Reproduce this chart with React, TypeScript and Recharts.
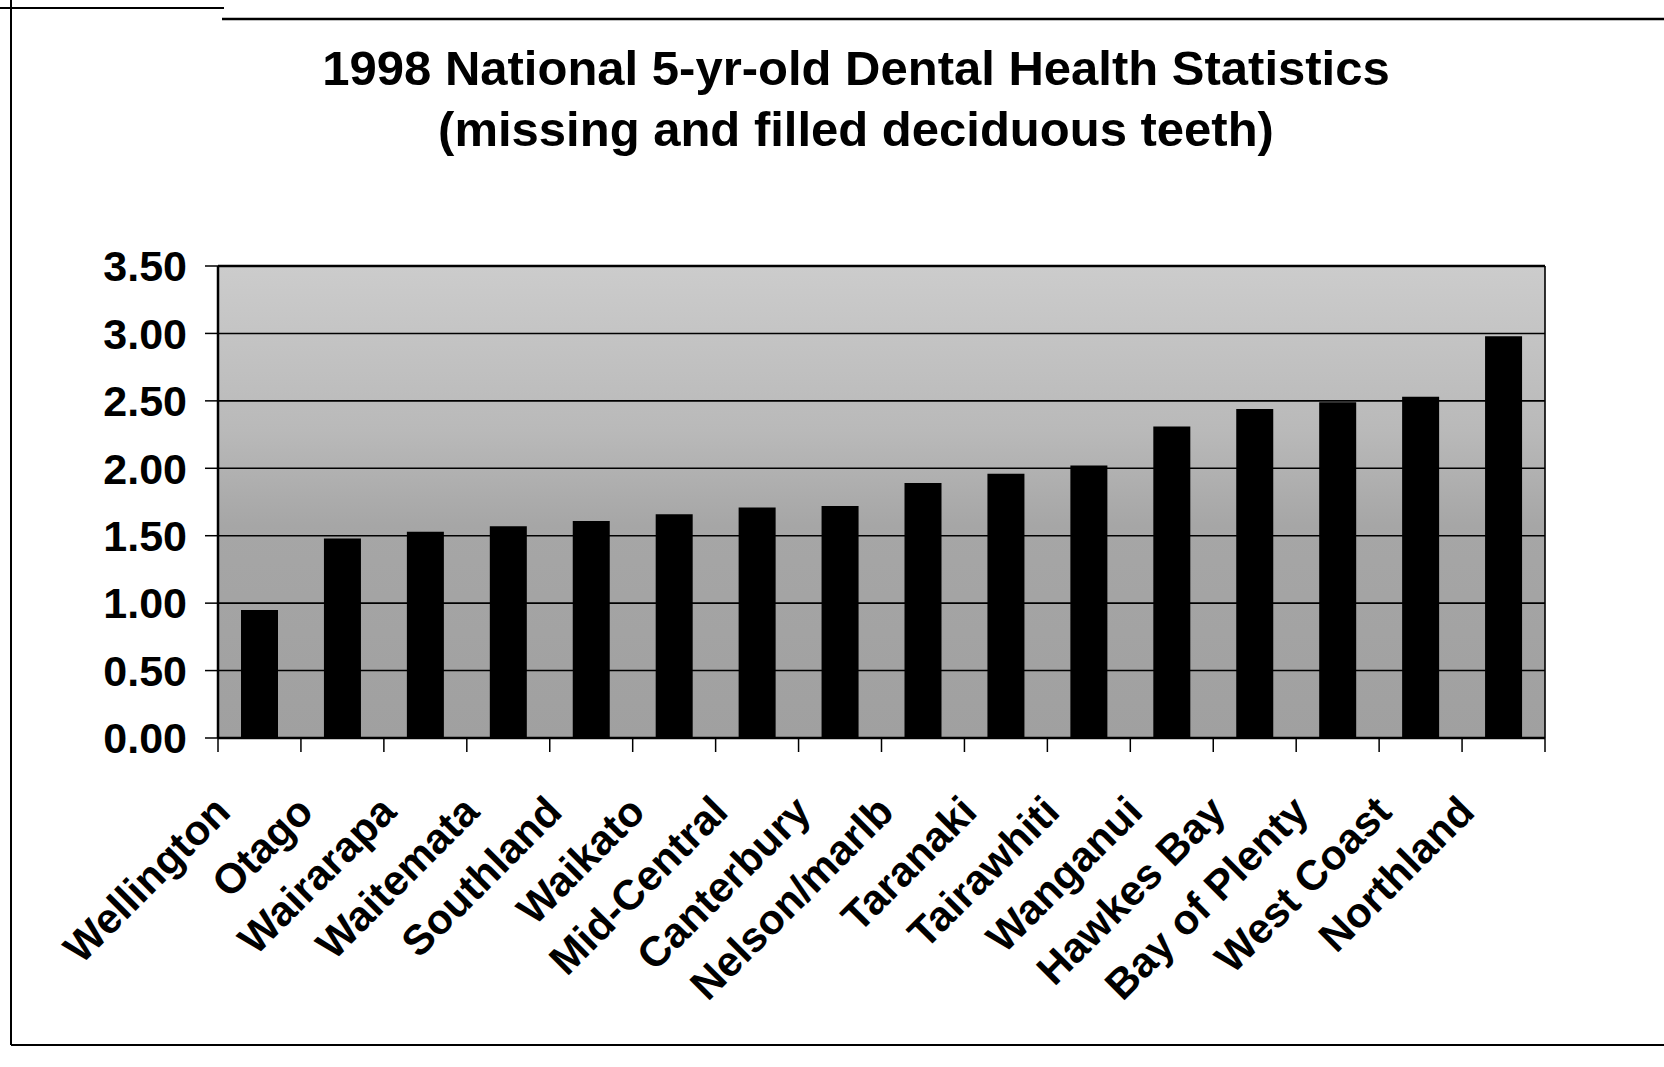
import React from 'react';
import { BarChart, Bar, XAxis, YAxis, CartesianGrid, ReferenceLine } from 'recharts';

const categories = [
  'Wellington', 'Otago', 'Wairarapa', 'Waitemata', 'Southland', 'Waikato',
  'Mid-Central', 'Canterbury', 'Nelson/marlb', 'Taranaki', 'Tairawhiti',
  'Wanganui', 'Hawkes Bay', 'Bay of Plenty', 'West Coast', 'Northland',
];
const values = [0.95, 1.48, 1.53, 1.57, 1.61, 1.66, 1.71, 1.72, 1.89, 1.96, 2.02, 2.31, 2.44, 2.49, 2.53, 2.98];
const yTicks = [0, 0.5, 1, 1.5, 2, 2.5, 3, 3.5];
const titleLines = ['1998 National 5-yr-old Dental Health Statistics', '(missing and filled deciduous teeth)'];

const data = categories.map((name, i) => ({ name, value: values[i] }));

const W = 1664;
const H = 1067;
const PLOT_LEFT = 218;
const MARGIN_RIGHT = 119;
const MARGIN_TOP = 266;
const XAXIS_H = 329;
const BAND = (W - MARGIN_RIGHT - PLOT_LEFT) / categories.length;
const FONT = '"Liberation Sans", Arial, Helvetica, sans-serif';

function XTick(props: any) {
  const { x, y, payload, index } = props;
  const half = BAND / 2;
  return (
    <g>
      <line x1={x - half} x2={x - half} y1={y} y2={y + 14} stroke="#000" strokeWidth={1.5} />
      {index === categories.length - 1 && (
        <line x1={x + half} x2={x + half} y1={y} y2={y + 14} stroke="#000" strokeWidth={1.5} />
      )}
      <text
        transform={`translate(${x - 27},${y + 76}) rotate(-45)`}
        textAnchor="end"
        fontSize={42}
        fontWeight="bold"
        fontFamily={FONT}
        fill="#000"
      >
        {payload.value}
      </text>
    </g>
  );
}

export default function App() {
  return (
    <div style={{ position: 'absolute', left: 0, top: 0, width: W, height: H, background: '#fff', overflow: 'hidden' }}>
      <svg width={0} height={0} style={{ position: 'absolute' }}>
        <defs>
          <linearGradient id="plotBg" x1="0" y1="0" x2="0" y2="1">
            <stop offset="0" stopColor="#cccccc" />
            <stop offset="0.35" stopColor="#b9b9b9" />
            <stop offset="0.55" stopColor="#a6a6a6" />
            <stop offset="1" stopColor="#a0a0a0" />
          </linearGradient>
        </defs>
      </svg>
      <BarChart
        width={W}
        height={H}
        data={data}
        margin={{ top: MARGIN_TOP, right: MARGIN_RIGHT, bottom: 0, left: 0 }}
        barSize={37}
      >
        <CartesianGrid
          stroke="#000"
          strokeWidth={1.6}
          fill="url(#plotBg)"
          fillOpacity={1}
          horizontal={true}
          vertical={true}
          verticalCoordinatesGenerator={({ offset }: any) => [offset.left, offset.left + offset.width]}
        />
        <XAxis
          dataKey="name"
          height={XAXIS_H}
          interval={0}
          tickLine={false}
          tickSize={0}
          tickMargin={0}
          axisLine={{ stroke: '#000', strokeWidth: 2.5 }}
          tick={<XTick />}
        />
        <YAxis
          width={PLOT_LEFT}
          domain={[0, 3.5]}
          ticks={yTicks}
          interval={0}
          tickSize={13}
          tickMargin={18}
          tickFormatter={(v: number) => v.toFixed(2)}
          axisLine={{ stroke: '#000', strokeWidth: 2.5 }}
          tickLine={{ stroke: '#000', strokeWidth: 1.5 }}
          tick={{ fontSize: 43, fontWeight: 'bold', fill: '#000', fontFamily: FONT }}
        />
        <ReferenceLine y={3.5} stroke="#000" strokeWidth={2.5} />
        <Bar dataKey="value" fill="#000" isAnimationActive={false} />
      </BarChart>
      <svg width={W} height={H} style={{ position: 'absolute', left: 0, top: 0, pointerEvents: 'none' }}>
        <line x1={11} y1={0} x2={11} y2={1045} stroke="#000" strokeWidth={2} />
        <line x1={0} y1={8} x2={224} y2={8} stroke="#000" strokeWidth={2} />
        <line x1={222} y1={19} x2={W} y2={19} stroke="#000" strokeWidth={2.5} />
        <line x1={11} y1={1045} x2={W} y2={1045} stroke="#000" strokeWidth={2} />
        <text x={856} y={85} textAnchor="middle" fontSize={49} fontWeight="bold" fontFamily={FONT} fill="#000">
          {titleLines[0]}
        </text>
        <text x={856} y={146} textAnchor="middle" fontSize={49} fontWeight="bold" fontFamily={FONT} fill="#000">
          {titleLines[1]}
        </text>
      </svg>
    </div>
  );
}
